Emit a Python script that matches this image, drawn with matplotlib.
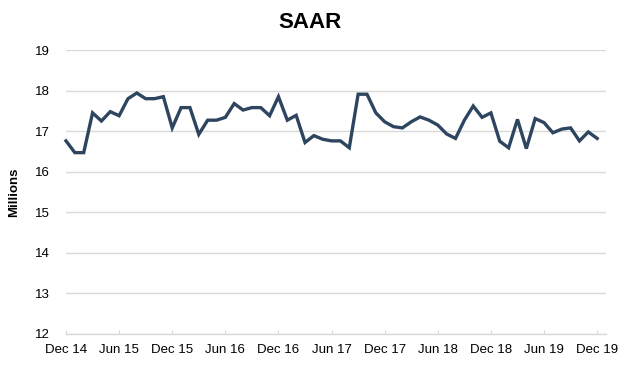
import numpy as np
import matplotlib
matplotlib.use("Agg")
import matplotlib.pyplot as plt

plt.rcParams['font.family'] = ['Liberation Sans', 'DejaVu Sans']

# Monthly SAAR (millions), Dec 2014 .. Dec 2019
saar = [
    16.76, 16.47, 16.47, 17.45, 17.25, 17.48, 17.38, 17.80, 17.94, 17.80, 17.80, 17.85, 17.08,
    17.58, 17.58, 16.92, 17.27, 17.27, 17.34, 17.68, 17.52, 17.58, 17.58, 17.38, 17.85,
    17.27, 17.39, 16.72, 16.89, 16.80, 16.76, 16.76, 16.59, 17.91, 17.91, 17.45, 17.23,
    17.11, 17.08, 17.23, 17.35, 17.27, 17.15, 16.93, 16.82, 17.27, 17.62, 17.34, 17.45,
    16.75, 16.59, 17.29, 16.57, 17.31, 17.21, 16.96, 17.05, 17.08, 16.76, 16.98, 16.82,
]
tick_labels = ["Dec 14", "Jun 15", "Dec 15", "Jun 16", "Dec 16", "Jun 17",
               "Dec 17", "Jun 18", "Dec 18", "Jun 19", "Dec 19"]
y_ticks = [12, 13, 14, 15, 16, 17, 18, 19]

fig = plt.figure(figsize=(6.2, 3.65), dpi=100)
ax = fig.add_axes([66 / 620, 1 - 334 / 365, 540 / 620, 284 / 365])

months = np.arange(len(saar))
ax.plot(months, saar, color='#2E4560', linewidth=2.4, solid_joinstyle='miter',
        clip_on=False, zorder=3)

ax.set_ylim(12, 19)
ax.set_xlim(0, 61)
ax.set_yticks(y_ticks)
ax.set_xticks(np.arange(0, len(saar), 6))
ax.set_xticklabels(tick_labels)
ax.grid(axis='y', color='#d9d9d9', linewidth=1)
ax.set_axisbelow(True)

for side in ['top', 'right', 'left']:
    ax.spines[side].set_visible(False)
ax.spines['bottom'].set_color('#d9d9d9')
ax.spines['bottom'].set_linewidth(1)

ax.tick_params(axis='y', length=0, pad=11.5, labelsize=9.5)
ax.tick_params(axis='x', direction='in', length=3, color='#d9d9d9', pad=7, labelsize=9.5)

fig.text(14 / 620, 1 - 192 / 365, "Millions", rotation=90, ha='center', va='center',
         fontsize=9.5, fontweight='bold')
fig.text(0.5, 1 - 22 / 365, "SAAR", ha='center', va='center', fontsize=16, fontweight='bold')

fig.savefig("out.png", dpi=100)
